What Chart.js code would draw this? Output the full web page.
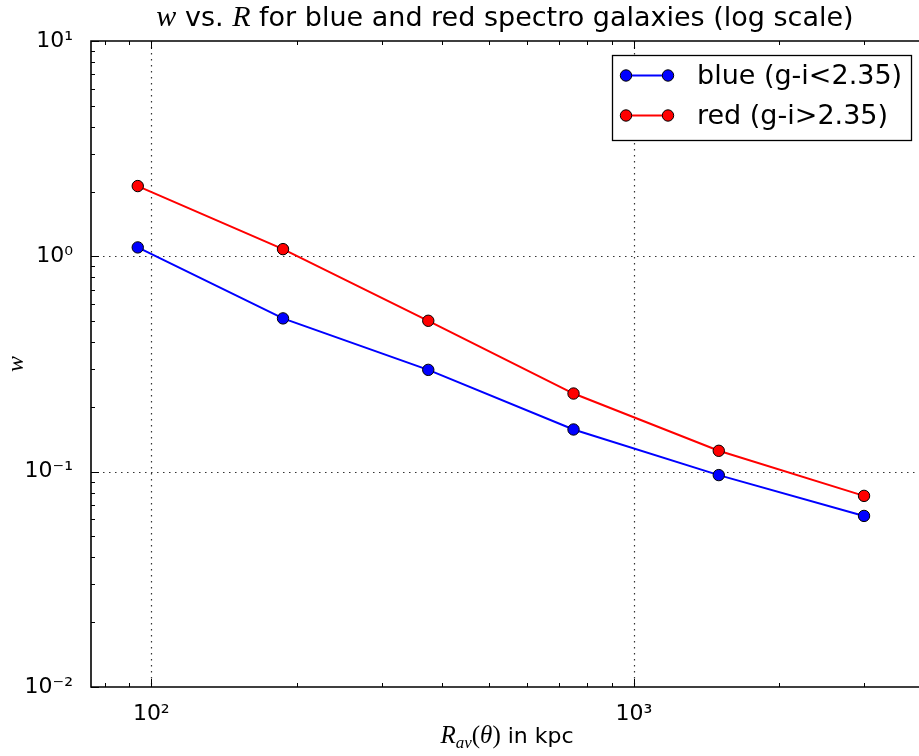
<!DOCTYPE html>
<html><head><meta charset="utf-8">
<script src="https://cdn.jsdelivr.net/npm/chart.js@4.4.0/dist/chart.umd.min.js"></script>
<style>html,body{margin:0;padding:0;overflow:hidden;background:#fff}
#wrap{width:919px;height:756px}</style></head>
<body><div id="wrap"><canvas id="c" width="919" height="756"></canvas></div>
<script>
const radiusKpc = [93.75, 187.5, 375, 750, 1500, 3000];
const blueW = [1.10, 0.515, 0.297, 0.157, 0.0964, 0.0623];
const redW = [2.12, 1.08, 0.502, 0.2306, 0.125, 0.0772];
const seriesLabels = ['blue (g-i<2.35)', 'red (g-i>2.35)'];
const seriesColors = ['#0000ff', '#ff0000'];
const xTicks = [100, 1000];
const xTickLabels = ['10\u00B2', '10\u00B3'];
const yTicks = [0.01, 0.1, 1, 10];
const yTickLabels = ['10\u207B\u00B2', '10\u207B\u00B9', '10\u2070', '10\u00B9'];
const xRange = [75, 3900];
const yRange = [0.01, 10];

const SANS = 'DejaVu Sans';
const SERIF = 'Liberation Serif';

function findLabel(vals, labels, v){
  for (let i=0;i<vals.length;i++){ if (Math.abs(vals[i]-v) < vals[i]*1e-6) return labels[i]; }
  return '';
}

function drawPieces(ctx, pieces, cx, baseline){
  let total = 0;
  pieces.forEach(p => { ctx.font = p.font; p.w = ctx.measureText(p.t).width; total += p.w + (p.gap||0); });
  let x = cx - total/2;
  ctx.textAlign = 'left'; ctx.textBaseline = 'alphabetic'; ctx.fillStyle = '#000';
  pieces.forEach(p => { ctx.font = p.font; ctx.fillText(p.t, x, baseline + (p.dy||0)); x += p.w + (p.gap||0); });
}

const decor = {
  id: 'decor',
  beforeDatasetsDraw(chart){
    const {ctx, chartArea: a, scales: {x, y}} = chart;
    ctx.save();
    ctx.strokeStyle = '#333'; ctx.lineWidth = 1.2; ctx.setLineDash([1.5, 4.5]);
    xTicks.forEach(v => { const px = Math.round(x.getPixelForValue(v)) + 0.5;
      ctx.beginPath(); ctx.moveTo(px, a.top); ctx.lineTo(px, a.bottom); ctx.stroke(); });
    yTicks.forEach(v => { const py = Math.round(y.getPixelForValue(v)) + 0.5;
      if (py <= a.top + 2 || py >= a.bottom - 2) return;
      ctx.beginPath(); ctx.moveTo(a.left, py); ctx.lineTo(a.right, py); ctx.stroke(); });
    ctx.restore();
  },
  afterDatasetsDraw(chart){
    const {ctx, chartArea: a, scales: {x, y}} = chart;
    ctx.save();
    // inward ticks
    ctx.strokeStyle = '#000'; ctx.lineWidth = 1;
    for (let e = 1; e <= 4; e++) {
      for (let m = 1; m <= 9; m++) {
        const v = m * Math.pow(10, e);
        if (v < xRange[0] || v > xRange[1]) continue;
        const px = Math.round(x.getPixelForValue(v)) + 0.5, len = m === 1 ? 8 : 4;
        ctx.beginPath(); ctx.moveTo(px, a.bottom); ctx.lineTo(px, a.bottom - len);
        ctx.moveTo(px, a.top); ctx.lineTo(px, a.top + len); ctx.stroke();
      }
    }
    for (let e = -2; e <= 1; e++) {
      for (let m = 1; m <= 9; m++) {
        const v = m * Math.pow(10, e);
        if (v < yRange[0]*0.999 || v > yRange[1]*1.001) continue;
        const py = Math.round(y.getPixelForValue(v)) + 0.5, len = m === 1 ? 8 : 4;
        ctx.beginPath(); ctx.moveTo(a.left, py); ctx.lineTo(a.left + len, py); ctx.stroke();
      }
    }
    // frame (right spine lies just outside the picture)
    ctx.lineWidth = 1.6;
    ctx.beginPath();
    ctx.moveTo(a.right + 2, a.top); ctx.lineTo(a.left, a.top); ctx.lineTo(a.left, a.bottom); ctx.lineTo(a.right + 2, a.bottom);
    ctx.stroke();

    // legend
    const lx = 612, ly = 55, lw = 299, lh = 85;
    ctx.fillStyle = '#fff'; ctx.fillRect(lx, ly, lw, lh);
    ctx.lineWidth = 1.3; ctx.strokeStyle = '#000'; ctx.strokeRect(lx + 0.5, ly + 0.5, lw, lh);
    chart.data.datasets.forEach((ds, i) => {
      const ry = 75.5 + i * 40;
      ctx.strokeStyle = ds.borderColor; ctx.lineWidth = 2;
      ctx.beginPath(); ctx.moveTo(626, ry); ctx.lineTo(668, ry); ctx.stroke();
      [626, 668].forEach(mx => {
        ctx.beginPath(); ctx.arc(mx, ry, 5.7, 0, Math.PI * 2);
        ctx.fillStyle = ds.pointBackgroundColor; ctx.fill();
        ctx.lineWidth = 1; ctx.strokeStyle = '#000'; ctx.stroke();
      });
      ctx.fillStyle = '#000'; ctx.font = '27px "' + SANS + '"';
      ctx.textAlign = 'left'; ctx.textBaseline = 'middle';
      ctx.fillText(ds.label, 697, ry + 1);
    });

    // title
    const cx = 505;
    drawPieces(ctx, [
      {t: 'w', font: 'italic 30px "' + SERIF + '"'},
      {t: ' vs. ', font: '27px "' + SANS + '"'},
      {t: 'R', font: 'italic 30px "' + SERIF + '"'},
      {t: ' for blue and red spectro galaxies (log scale)', font: '27px "' + SANS + '"'}
    ], cx, 26);

    // x axis label
    drawPieces(ctx, [
      {t: 'R', font: 'italic 25px "' + SERIF + '"'},
      {t: 'av', font: 'italic 17px "' + SERIF + '"', dy: 5},
      {t: '(', font: '25px "' + SERIF + '"'},
      {t: '\u03B8', font: 'italic 25px "' + SERIF + '"'},
      {t: ')', font: '25px "' + SERIF + '"'},
      {t: ' in kpc', font: '22px "' + SANS + '"'}
    ], cx + 2, 743);
    ctx.restore();
  }
};

function mkData(vals){ return radiusKpc.map((r, i) => ({x: r, y: vals[i]})); }

new Chart(document.getElementById('c'), {
  type: 'line',
  data: {
    datasets: [
      {label: seriesLabels[0], data: mkData(blueW), borderColor: seriesColors[0], backgroundColor: seriesColors[0],
       pointBackgroundColor: seriesColors[0], pointBorderColor: '#000', pointBorderWidth: 1, pointRadius: 5.7,
       borderWidth: 2, tension: 0, fill: false, order: 2},
      {label: seriesLabels[1], data: mkData(redW), borderColor: seriesColors[1], backgroundColor: seriesColors[1],
       pointBackgroundColor: seriesColors[1], pointBorderColor: '#000', pointBorderWidth: 1, pointRadius: 5.7,
       borderWidth: 2, tension: 0, fill: false, order: 1}
    ]
  },
  options: {
    responsive: false, animation: false,
    layout: {autoPadding: false, padding: {top: 41, left: 0, right: 0, bottom: 0}},
    plugins: {legend: {display: false}, title: {display: false}, tooltip: {enabled: false}},
    scales: {
      x: {
        type: 'logarithmic', min: xRange[0], max: xRange[1],
        grid: {display: false}, border: {display: false},
        afterBuildTicks: s => { s.ticks = xTicks.map(v => ({value: v})); },
        afterFit: s => { s.height = 69; s.paddingLeft = 0; s.paddingRight = 0; },
        ticks: {autoSkip: false, maxRotation: 0, padding: 6, color: '#000',
          font: {family: SANS, size: 22}, callback: v => findLabel(xTicks, xTickLabels, v)}
      },
      y: {
        type: 'logarithmic', min: yRange[0], max: yRange[1],
        grid: {display: false}, border: {display: false},
        afterBuildTicks: s => { s.ticks = yTicks.map(v => ({value: v})); },
        afterFit: s => { s.width = 91; s.paddingTop = 0; s.paddingBottom = 0; },
        title: {display: true, text: 'w', color: '#000', padding: {top: 2, bottom: 0},
          font: {family: SERIF, style: 'italic', size: 24}},
        ticks: {autoSkip: false, padding: 10, color: '#000',
          font: {family: SANS, size: 22}, callback: v => findLabel(yTicks, yTickLabels, v)}
      }
    }
  },
  plugins: [decor]
});
</script>
</body></html>
